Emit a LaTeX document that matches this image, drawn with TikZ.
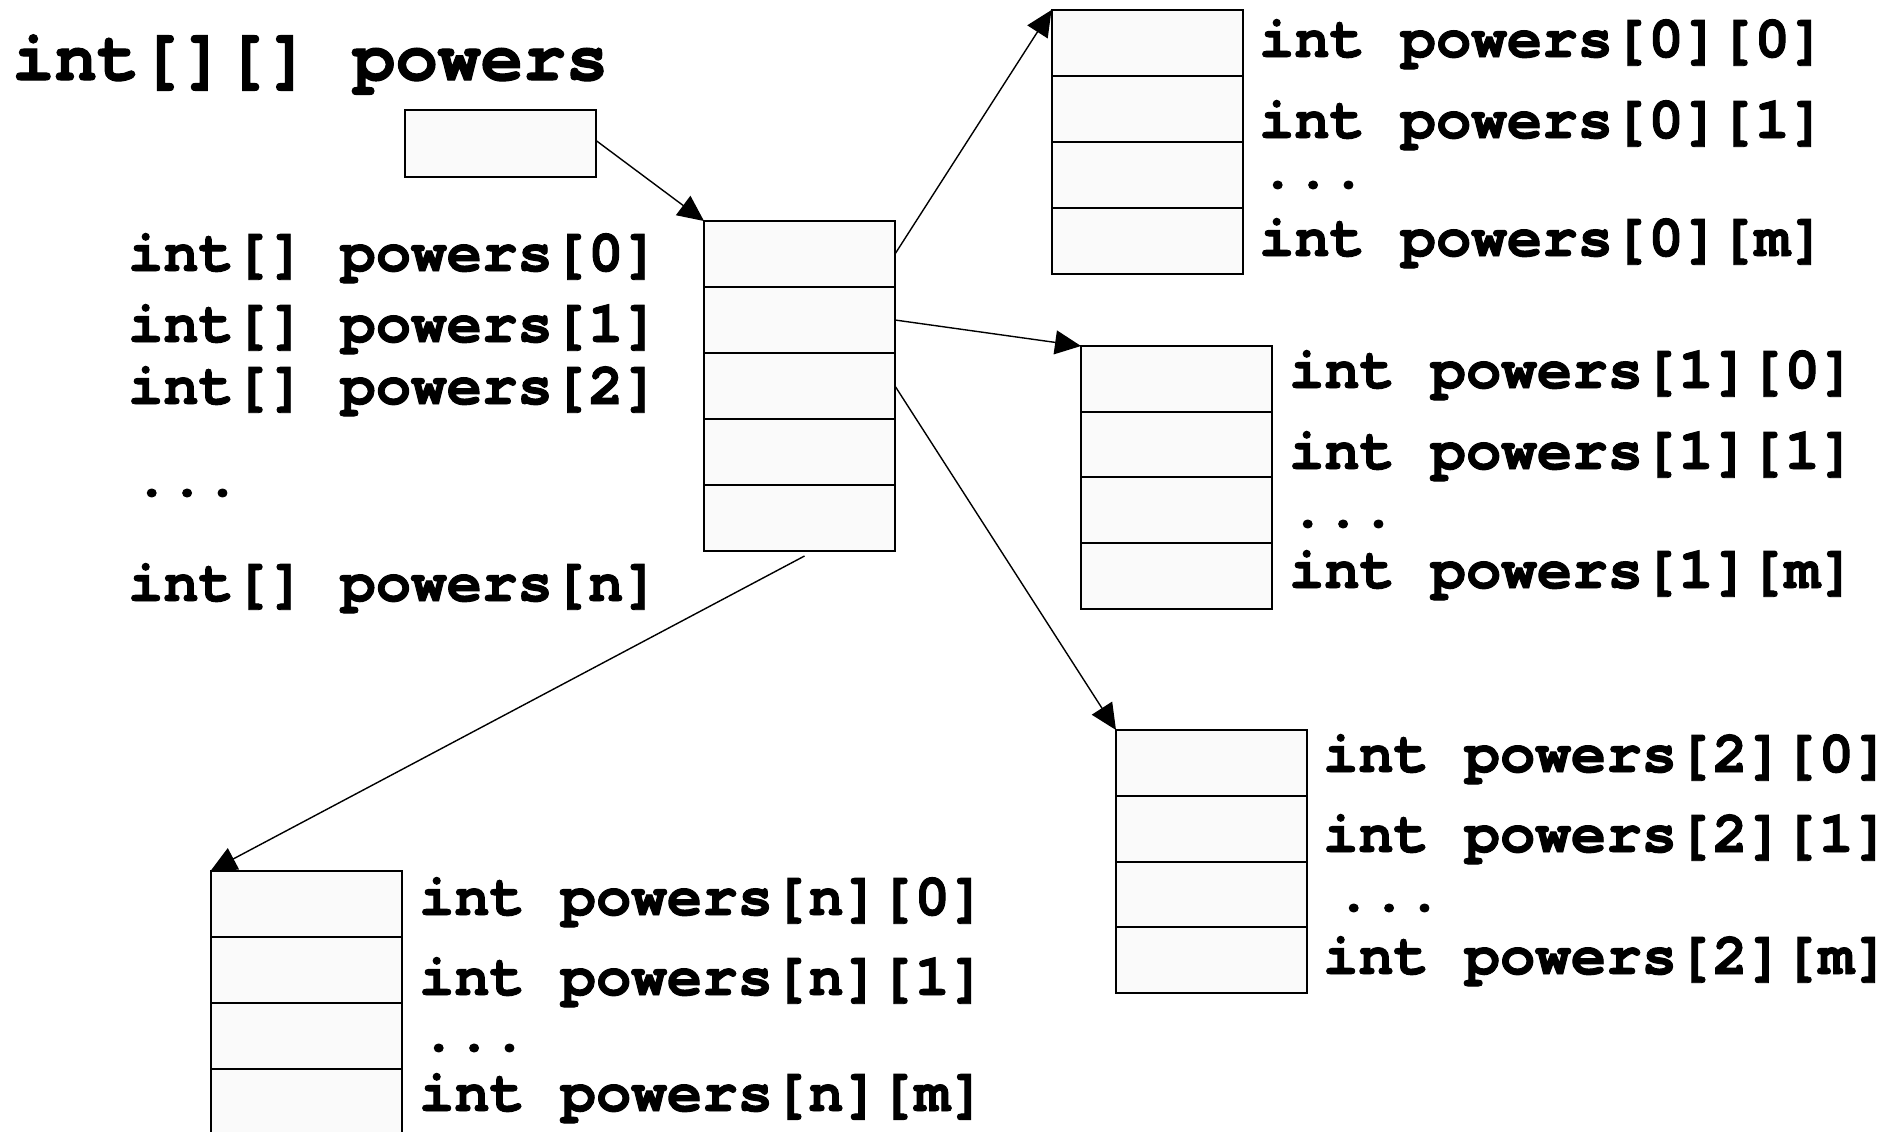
\documentclass[tikz,border=0pt]{standalone}
\usepackage{fontspec}
\usetikzlibrary{arrows.meta}
\newfontfamily\codefont[FakeBold=1.6]{texgyrecursor-bold.otf}
\definecolor{cellfill}{HTML}{FAFAFA}

\begin{document}
\begin{tikzpicture}[x=0.5pt, y=-0.5pt,
  cell/.style={draw=black, line width=1pt, fill=cellfill, rectangle,
    minimum width=95.5pt, minimum height=33pt, inner sep=0pt, outer sep=0pt},
  conn/.style={draw=black, line width=0.7pt,
    -{Triangle[length=13pt, width=12pt]}},
  code/.style={anchor=base west, inner sep=0pt, outer sep=0pt,
    font=\codefont\fontsize{29.5}{30}\selectfont},
  title/.style={code, font=\codefont\fontsize{35.5}{36}\selectfont}]

\useasboundingbox[fill=white] (0,0) rectangle (1897,1131);

% reference variable
\node[title] (ttl) at (12,80) {int[][] powers};
\node[cell, minimum height=33.5pt] (p) at (500.5,143.5) {};

% array of row references
\foreach \i in {0,...,4}
  \node[cell] (m\i) at (799.5,{254+66*\i}) {};
\node[code] (l0) at (128,271) {int[] powers[0]};
\node[code] (l1) at (128,342) {int[] powers[1]};
\node[code] (l2) at (128,404) {int[] powers[2]};
\node[code] (ld) at (134,496) {...};
\node[code] (ln) at (128,601) {int[] powers[n]};

% row 0
\foreach \i in {0,...,3}
  \node[cell] (a0-\i) at (1147,{43+66*\i}) {};
\node[code] (t00) at (1259,57) {int powers[0][0]};
\node[code] (t01) at (1259,138) {int powers[0][1]};
\node[code] (t0d) at (1260,188) {...};
\node[code] (t0m) at (1259,256) {int powers[0][m]};

% row 1
\foreach \i in {0,...,3}
  \node[cell] (a1-\i) at (1176.5,{379+65.5*\i}) {};
\node[code] (t10) at (1289,388) {int powers[1][0]};
\node[code] (t11) at (1289,469) {int powers[1][1]};
\node[code] (t1d) at (1290,527) {...};
\node[code] (t1m) at (1289,588) {int powers[1][m]};

% row 2
\foreach \i in {0,...,3}
  \node[cell] (a2-\i) at (1211.5,{763+65.75*\i}) {};
\node[code] (t20) at (1323,772) {int powers[2][0]};
\node[code] (t21) at (1323,852) {int powers[2][1]};
\node[code] (t2d) at (1336,911) {...};
\node[code] (t2m) at (1323,974) {int powers[2][m]};

% row n
\foreach \i in {0,...,3}
  \node[cell] (an-\i) at (306,{904+66*\i}) {};
\node[code] (tn0) at (419,915) {int powers[n][0]};
\node[code] (tn1) at (419,995) {int powers[n][1]};
\node[code] (tnd) at (421,1051) {...};
\node[code] (tnm) at (419,1111) {int powers[n][m]};

% references
\draw[conn] ([yshift=1.5pt]p.east) -- (m0.north west);
\draw[conn] (m0.east) -- (a0-0.north west);
\draw[conn] (m1.east) -- (a1-0.north west);
\draw[conn] (m2.east) -- (a2-0.north west);
\draw[conn] ([shift={(5,5)}]m4.south) -- (an-0.north west);

\end{tikzpicture}
\end{document}
